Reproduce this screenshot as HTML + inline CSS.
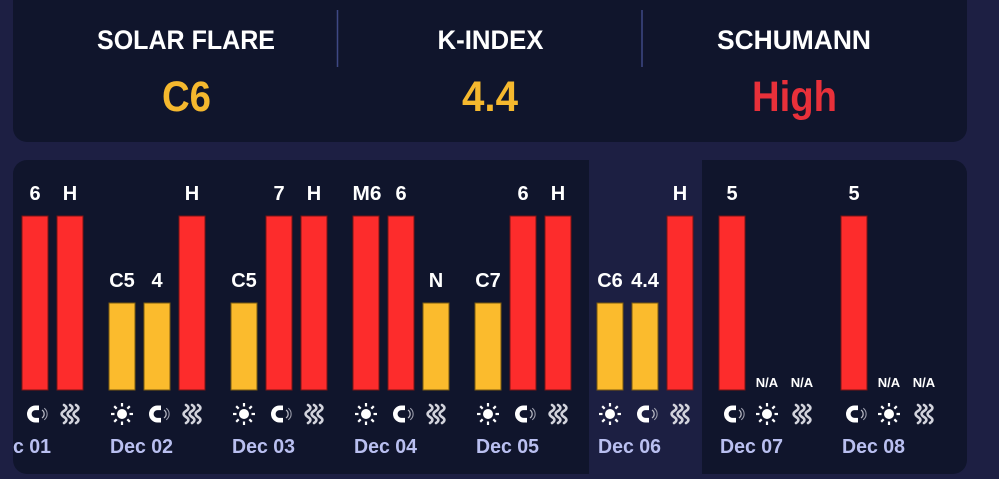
<!DOCTYPE html>
<html>
<head>
<meta charset="utf-8">
<style>
  html, body { margin:0; padding:0; background:#1d1f43; }
  body { width:999px; height:479px; overflow:hidden; }
  svg { display:block; }
  text { font-family:"Liberation Sans", "DejaVu Sans", sans-serif; font-weight:bold; }
</style>
</head>
<body>
<svg width="999" height="479" viewBox="0 0 999 479" xmlns="http://www.w3.org/2000/svg">
  <defs>
    <clipPath id="cardclip">
      <rect x="13" y="160" width="954" height="314" rx="14" ry="14"/>
    </clipPath>
    <g id="sun">
      <circle cx="0" cy="0" r="5" fill="#ffffff"/>
      <g stroke="#ffffff" stroke-width="2.2">
        <line x1="0" y1="-7.5" x2="0" y2="-11"/>
        <line x1="0" y1="7.5" x2="0" y2="11"/>
        <line x1="-7.5" y1="0" x2="-11" y2="0"/>
        <line x1="7.5" y1="0" x2="11" y2="0"/>
        <line x1="5.3" y1="5.3" x2="7.8" y2="7.8"/>
        <line x1="-5.3" y1="5.3" x2="-7.8" y2="7.8"/>
        <line x1="5.3" y1="-5.3" x2="7.8" y2="-7.8"/>
        <line x1="-5.3" y1="-5.3" x2="-7.8" y2="-7.8"/>
      </g>
    </g>
    <g id="magnet">
      <path d="M 4,-6.2 L 0.5,-6.2 A 6.2,6.2 0 1 0 0.5,6.2 L 4,6.2" fill="none" stroke="#ffffff" stroke-width="4.6"/>
      <path d="M 7,-4 A 4.8,4.8 0 0 1 7,4" fill="none" stroke="#b8b9c4" stroke-width="1.3"/>
      <path d="M 9.2,-5.8 A 7.2,7.2 0 0 1 9.2,5.8" fill="none" stroke="#9a9cab" stroke-width="1.1"/>
    </g>
    <g id="waves" fill="none" stroke="#d2d3dc" stroke-width="2.6" stroke-linecap="round">
      <path d="M -6,-9 c 3.2,2 3.2,4 0,6 c -3.2,2 -3.2,4 0,6 c 3.2,2 3.2,4 0,6"/>
      <path d="M 0,-9 c 3.2,2 3.2,4 0,6 c -3.2,2 -3.2,4 0,6 c 3.2,2 3.2,4 0,6"/>
      <path d="M 6,-9 c 3.2,2 3.2,4 0,6 c -3.2,2 -3.2,4 0,6 c 3.2,2 3.2,4 0,6"/>
    </g>
  </defs>

  <!-- page bg -->
  <rect x="0" y="0" width="999" height="479" fill="#1d1f43"/>

  <!-- top card -->
  <rect x="13" y="-20" width="954" height="162" rx="14" ry="14" fill="#10152c"/>
  <line x1="337.5" y1="10" x2="337.5" y2="67" stroke="#3e4884" stroke-width="1.5"/>
  <line x1="642" y1="10" x2="642" y2="67" stroke="#3e4884" stroke-width="1.5"/>

  <text x="186" y="49" font-size="27" fill="#ffffff" text-anchor="middle" textLength="178" lengthAdjust="spacingAndGlyphs">SOLAR FLARE</text>
  <text x="490.5" y="49" font-size="27" fill="#ffffff" text-anchor="middle" textLength="106" lengthAdjust="spacingAndGlyphs">K-INDEX</text>
  <text x="794" y="49" font-size="27" fill="#ffffff" text-anchor="middle" textLength="154" lengthAdjust="spacingAndGlyphs">SCHUMANN</text>

  <text x="186.5" y="111" font-size="43" fill="#f5b82e" text-anchor="middle" textLength="49" lengthAdjust="spacingAndGlyphs">C6</text>
  <text x="490" y="111" font-size="43" fill="#f5b82e" text-anchor="middle" textLength="56" lengthAdjust="spacingAndGlyphs">4.4</text>
  <text x="794.5" y="111" font-size="43" fill="#e8303a" text-anchor="middle" textLength="85" lengthAdjust="spacingAndGlyphs">High</text>

  <!-- bottom card -->
  <rect x="13" y="160" width="954" height="314" rx="14" ry="14" fill="#10152c"/>
  <!-- highlighted column -->
  <rect x="589" y="160" width="113" height="319" fill="#1c1f42"/>

  <g clip-path="url(#cardclip)">
    <!-- BARS -->
    <g stroke="#7a1414" stroke-width="1">
      <!-- Dec 01 -->
      <rect x="22" y="216" width="26" height="174" fill="#fd2c2c"/>
      <rect x="57" y="216" width="26" height="174" fill="#fd2c2c"/>
      <!-- Dec 02 -->
      <rect x="109" y="303" width="26" height="87" fill="#fbbb2d" stroke="#7a5a10"/>
      <rect x="144" y="303" width="26" height="87" fill="#fbbb2d" stroke="#7a5a10"/>
      <rect x="179" y="216" width="26" height="174" fill="#fd2c2c"/>
      <!-- Dec 03 -->
      <rect x="231" y="303" width="26" height="87" fill="#fbbb2d" stroke="#7a5a10"/>
      <rect x="266" y="216" width="26" height="174" fill="#fd2c2c"/>
      <rect x="301" y="216" width="26" height="174" fill="#fd2c2c"/>
      <!-- Dec 04 -->
      <rect x="353" y="216" width="26" height="174" fill="#fd2c2c"/>
      <rect x="388" y="216" width="26" height="174" fill="#fd2c2c"/>
      <rect x="423" y="303" width="26" height="87" fill="#fbbb2d" stroke="#7a5a10"/>
      <!-- Dec 05 -->
      <rect x="475" y="303" width="26" height="87" fill="#fbbb2d" stroke="#7a5a10"/>
      <rect x="510" y="216" width="26" height="174" fill="#fd2c2c"/>
      <rect x="545" y="216" width="26" height="174" fill="#fd2c2c"/>
      <!-- Dec 06 -->
      <rect x="597" y="303" width="26" height="87" fill="#fbbb2d" stroke="#7a5a10"/>
      <rect x="632" y="303" width="26" height="87" fill="#fbbb2d" stroke="#7a5a10"/>
      <rect x="667" y="216" width="26" height="174" fill="#fd2c2c"/>
      <!-- Dec 07 -->
      <rect x="719" y="216" width="26" height="174" fill="#fd2c2c"/>
      <!-- Dec 08 -->
      <rect x="841" y="216" width="26" height="174" fill="#fd2c2c"/>
    </g>

    <!-- VALUE LABELS -->
    <g font-size="20" fill="#ffffff" text-anchor="middle">
      <text x="35" y="200">6</text>
      <text x="70" y="200">H</text>

      <text x="122" y="287">C5</text>
      <text x="157" y="287">4</text>
      <text x="192" y="200">H</text>

      <text x="244" y="287">C5</text>
      <text x="279" y="200">7</text>
      <text x="314" y="200">H</text>

      <text x="367" y="200" textLength="29" lengthAdjust="spacingAndGlyphs">M6</text>
      <text x="401" y="200">6</text>
      <text x="436" y="287">N</text>

      <text x="488" y="287">C7</text>
      <text x="523" y="200">6</text>
      <text x="558" y="200">H</text>

      <text x="610" y="287">C6</text>
      <text x="645" y="287">4.4</text>
      <text x="680" y="200">H</text>

      <text x="732" y="200">5</text>
      <text x="854" y="200">5</text>
    </g>
    <g font-size="13" fill="#ffffff" text-anchor="middle">
      <text x="767" y="387">N/A</text>
      <text x="802" y="387">N/A</text>
      <text x="889" y="387">N/A</text>
      <text x="924" y="387">N/A</text>
    </g>

    <!-- ICONS -->
    <use href="#magnet" x="35" y="414"/>
    <use href="#waves" x="70" y="414"/>

    <use href="#sun" x="122" y="414"/>
    <use href="#magnet" x="157" y="414"/>
    <use href="#waves" x="192" y="414"/>

    <use href="#sun" x="244" y="414"/>
    <use href="#magnet" x="279" y="414"/>
    <use href="#waves" x="314" y="414"/>

    <use href="#sun" x="366" y="414"/>
    <use href="#magnet" x="401" y="414"/>
    <use href="#waves" x="436" y="414"/>

    <use href="#sun" x="488" y="414"/>
    <use href="#magnet" x="523" y="414"/>
    <use href="#waves" x="558" y="414"/>

    <use href="#sun" x="610" y="414"/>
    <use href="#magnet" x="645" y="414"/>
    <use href="#waves" x="680" y="414"/>

    <use href="#magnet" x="732" y="414"/>
    <use href="#sun" x="767" y="414"/>
    <use href="#waves" x="802" y="414"/>

    <use href="#magnet" x="854" y="414"/>
    <use href="#sun" x="889" y="414"/>
    <use href="#waves" x="924" y="414"/>

    <!-- DATE LABELS -->
    <g font-size="20" fill="#b9bff0">
      <text x="-12" y="453" textLength="63" lengthAdjust="spacingAndGlyphs">Dec 01</text>
      <text x="110" y="453" textLength="63" lengthAdjust="spacingAndGlyphs">Dec 02</text>
      <text x="232" y="453" textLength="63" lengthAdjust="spacingAndGlyphs">Dec 03</text>
      <text x="354" y="453" textLength="63" lengthAdjust="spacingAndGlyphs">Dec 04</text>
      <text x="476" y="453" textLength="63" lengthAdjust="spacingAndGlyphs">Dec 05</text>
      <text x="598" y="453" textLength="63" lengthAdjust="spacingAndGlyphs">Dec 06</text>
      <text x="720" y="453" textLength="63" lengthAdjust="spacingAndGlyphs">Dec 07</text>
      <text x="842" y="453" textLength="63" lengthAdjust="spacingAndGlyphs">Dec 08</text>
    </g>
  </g>
</svg>
</body>
</html>
